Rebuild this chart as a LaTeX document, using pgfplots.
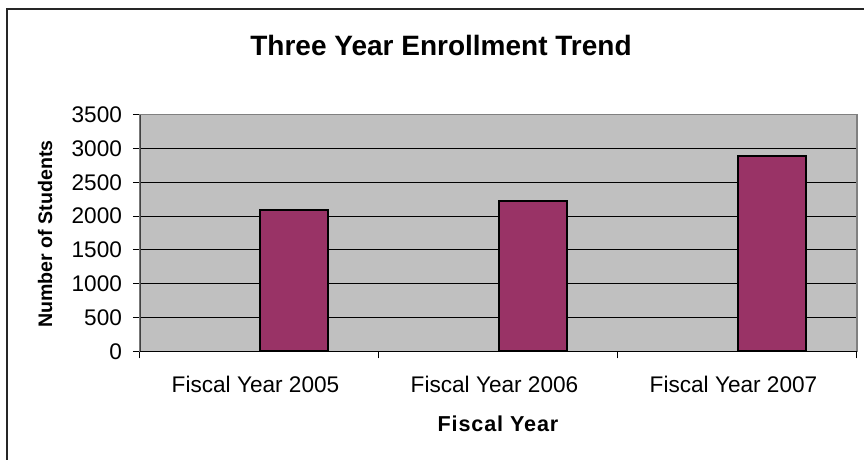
\documentclass[border=0pt]{standalone}
\usepackage{fontspec}
\setmainfont{Liberation Sans}
\usepackage{pgfplots}
\pgfplotsset{compat=1.18}
\definecolor{plotgray}{HTML}{C0C0C0}
\definecolor{barpurple}{HTML}{993366}
\begin{document}
\begin{tikzpicture}[x=0.5pt,y=-0.5pt]
\useasboundingbox (0,0) rectangle (864,460);
\draw[line width=1pt, black!85] (6.5,470) -- (6.5,9.5) -- (870,9.5);
\node[font=\fontsize{14pt}{16pt}\selectfont\bfseries] at (441,45) {Three Year Enrollment Trend};
\node[font=\fontsize{9.8pt}{12pt}\selectfont\bfseries, rotate=90] at (45,234) {Number of Students};
\node[font=\fontsize{10.8pt}{13pt}\selectfont\bfseries\addfontfeature{LetterSpace=4}] at (498,424) {Fiscal Year};
\begin{axis}[
  at={(140pt*0.5,-351.3pt*0.5)}, anchor=south west,
  scale only axis, width=358.5pt, height=118.3pt,
  xmin=-0.5, xmax=2.5, ymin=0, ymax=3500,
  ytick={0,500,...,3500},
  xtick={0,1,2},
  xticklabels={Fiscal Year 2005, Fiscal Year 2006, Fiscal Year 2007},
  minor xtick={-0.5,0.5,1.5,2.5},
  xtick pos=bottom, ytick pos=left,
  major x tick style={draw=none},
  tick align=outside,
  major tick length=3.5pt, minor tick length=3.5pt,
  tick style={black, line width=0.5pt},
  ymajorgrids, grid style={black, line width=0.5pt},
  axis line style={draw=black!50, line width=0.6pt},
  axis background/.style={fill=plotgray},
  ticklabel style={font=\fontsize{11.3pt}{13pt}\selectfont},
  /pgf/number format/assume math mode=true,
  /pgf/number format/1000 sep={},
  xticklabel style={yshift=-5.5pt, xshift=-2pt},
  yticklabel style={xshift=-2pt},
  ybar, bar width=0.2857, bar shift=0.1429,
]
\addplot[fill=barpurple, draw=black, line width=1pt] coordinates {(0,2085) (1,2230) (2,2890)};
\draw[black, line width=0.6pt] (axis cs:-0.5,0) -- (axis cs:2.5,0);
\draw[black!75, line width=0.8pt] (axis cs:-0.5,0) -- (axis cs:-0.5,3500);
\end{axis}
\end{tikzpicture}
\end{document}
